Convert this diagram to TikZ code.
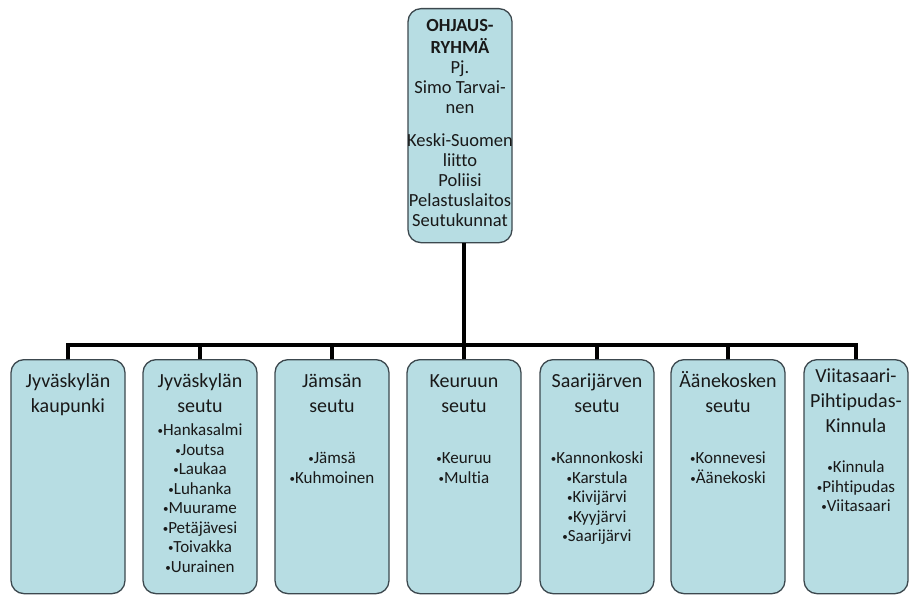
\documentclass[tikz,border=0pt]{standalone}
\usepackage{fontspec}
\setmainfont[Ligatures=NoCommon]{Carlito}
\definecolor{boxfill}{RGB}{183,221,227}
\definecolor{boxline}{RGB}{60,72,78}
\definecolor{txt}{RGB}{25,25,25}
\newcommand\bul{\raisebox{1.3pt}{\fontsize{11}{11}\selectfont •}}
\begin{document}
\begin{tikzpicture}[x=1pt,y=-1pt,
  box/.style={draw=boxline, fill=boxfill, line width=1.3pt, rounded corners=13pt,
    minimum height=234pt, inner sep=0pt, anchor=north},
  head/.style={anchor=north, align=center, inner sep=0pt, text=txt,
    font=\fontsize{20}{25}\selectfont},
  items/.style={anchor=north, align=center, inner sep=0pt, text=txt,
    font=\fontsize{17}{19.5}\selectfont},
  toptext/.style={anchor=north, align=center, inner sep=0pt, text=txt,
    font=\fontsize{18.5}{20}\selectfont},
  conn/.style={draw=black, line width=4pt, line join=miter}]
\useasboundingbox (0,0) rectangle (909,594);
\fill[white] (0,0) rectangle (909,594);

% top box
\node[box, minimum width=104pt] (top) at (460,8) {};
\node[toptext] (ttop) at (460,16.8) {\strut\textbf{OHJAUS-}\\\textbf{RYHMÄ}\\Pj.\\Simo Tarvai-\\nen\\[13.5pt]Keski-Suomen\\liitto\\Poliisi\\Pelastuslaitos\\Seutukunnat};

% bottom boxes
\node[box, minimum width=114pt] (b1) at (68,359) {};
\node[box, minimum width=114pt] (b2) at (200,359) {};
\node[box, minimum width=114pt] (b3) at (332,359) {};
\node[box, minimum width=114pt] (b4) at (464,359) {};
\node[box, minimum width=114pt] (b5) at (597,359) {};
\node[box, minimum width=114pt] (b6) at (728,359) {};
\node[box, minimum width=104pt] (b7) at (856,359) {};

% connectors
\coordinate (busy) at (0,345);
\draw[conn] (top.south -| b4.north) -- (b4.north);
\draw[conn] (b1.north) |- (busy -| b7.north) -- (b7.north);
\draw[conn] (b2.north) -- (b2.north |- busy);
\draw[conn] (b3.north) -- (b3.north |- busy);
\draw[conn] (b5.north) -- (b5.north |- busy);
\draw[conn] (b6.north) -- (b6.north |- busy);

% headings
\node[head] (h1) at (68,369.5) {\strut Jyväskylän\\kaupunki};
\node[head] (h2) at (200,369.5) {\strut Jyväskylän\\seutu};
\node[head] (h3) at (332,369.5) {\strut Jämsän\\seutu};
\node[head] (h4) at (464,369.5) {\strut Keuruun\\seutu};
\node[head] (h5) at (597,369.5) {\strut Saarijärven\\seutu};
\node[head] (h6) at (728,369.5) {\strut Äänekosken\\seutu};
\node[head] (h7) at (856,364.5) {\strut Viitasaari-\\Pihtipudas-\\Kinnula};

% lists
\node[items] (l2) at (200,422) {\strut \bul Hankasalmi\\\bul Joutsa\\\bul Laukaa\\\bul Luhanka\\\bul Muurame\\\bul Petäjävesi\\\bul Toivakka\\\bul Uurainen};
\node[items] (l3) at (332,450) {\strut \bul Jämsä\\\bul Kuhmoinen};
\node[items] (l4) at (464,450) {\strut \bul Keuruu\\\bul Multia};
\node[items] (l5) at (597,450) {\strut \bul Kannonkoski\\\bul Karstula\\\bul Kivijärvi\\\bul Kyyjärvi\\\bul Saarijärvi};
\node[items] (l6) at (728,450) {\strut \bul Konnevesi\\\bul Äänekoski};
\node[items] (l7) at (856,459) {\strut \bul Kinnula\\\bul Pihtipudas\\\bul Viitasaari};
\end{tikzpicture}
\end{document}
